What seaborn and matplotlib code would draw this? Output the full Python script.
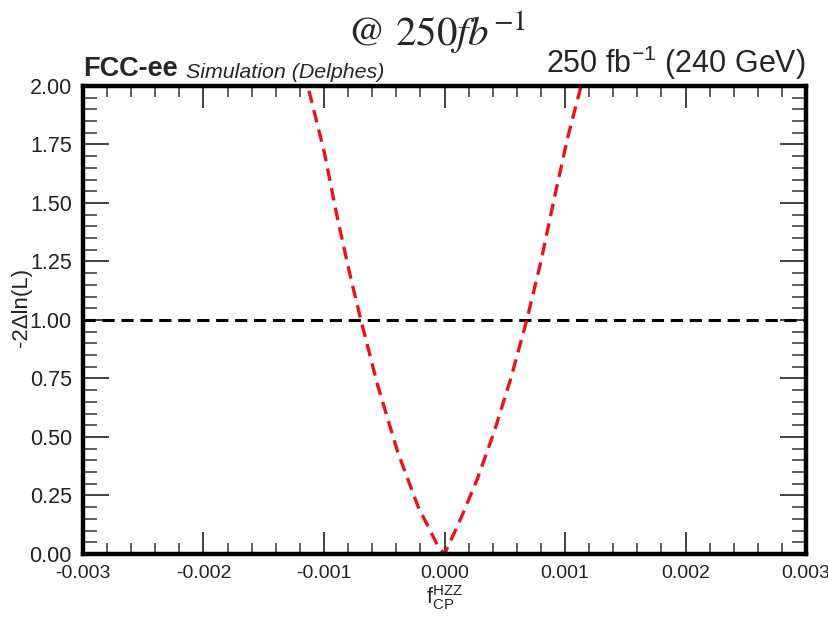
import matplotlib
matplotlib.use("Agg")
import matplotlib.pyplot as plt
import matplotlib.ticker as mticker
import seaborn as sns
import pandas as pd

# Data
f_cp = [-0.001125, -0.00100, -0.000889, -0.000778, -0.000694, -0.000555,
        -0.000388, -0.000222, -0.000055, 0.0,
        0.000133, 0.000272, 0.000411, 0.000550, 0.000683, 0.000800,
        0.000911, 0.001022, 0.001133]
nll = [1.98, 1.722, 1.436, 1.179, 1.0, 0.721,
       0.435, 0.206, 0.034, 0.0,
       0.149, 0.32, 0.52, 0.75, 1.0, 1.25,
       1.52, 1.78, 2.0]
ref_level = [1.0, 1.0]
ref_x = [-0.003, 0.003]
x_ticks = [-0.003, -0.002, -0.001, 0.0, 0.001, 0.002, 0.003]
y_ticks = [0.0, 0.25, 0.5, 0.75, 1.0, 1.25, 1.5, 1.75, 2.0]

sns.set_style("ticks")
plt.rcParams['font.family'] = ['Liberation Sans', 'DejaVu Sans']
plt.rcParams['mathtext.fontset'] = 'custom'
plt.rcParams['mathtext.rm'] = 'Liberation Sans'
plt.rcParams['mathtext.it'] = 'Liberation Sans:italic'

df = pd.DataFrame({"x": f_cp, "y": nll})
ref = pd.DataFrame({"x": ref_x, "y": ref_level})

fig = plt.figure(figsize=(8.29, 6.18), dpi=100)
ax = fig.add_axes([0.1001, 0.1036, 0.8722, 0.7573])

sns.lineplot(data=ref, x="x", y="y", ax=ax, color="black", lw=2.2,
             dashes=False, linestyle=(0, (4, 2.2)))
sns.lineplot(data=df, x="x", y="y", ax=ax, color="#e8141a", lw=2.4,
             linestyle=(0, (3.8, 2.2)), sort=True, estimator=None)

ax.set_xlim(-0.003, 0.003)
ax.set_ylim(0, 2.0)
ax.set_xticks(x_ticks)
ax.set_yticks(y_ticks)
ax.xaxis.set_major_formatter(mticker.FuncFormatter(lambda v, p: "%.3f" % v if abs(v) > 1e-12 else "0.000"))
ax.yaxis.set_major_formatter(mticker.FuncFormatter(lambda v, p: "%.2f" % v))
ax.xaxis.set_minor_locator(mticker.MultipleLocator(0.0002))
ax.yaxis.set_minor_locator(mticker.MultipleLocator(0.05))

ax.tick_params(axis='both', which='both', direction='in', top=True, right=True,
               color='#333333', labelcolor='#222222')
ax.tick_params(axis='x', which='major', labelsize=14, length=16, width=1.3, pad=8)
ax.tick_params(axis='x', which='minor', length=8, width=1.1)
ax.tick_params(axis='y', which='major', labelsize=15.5, length=19, width=1.3, pad=8)
ax.tick_params(axis='y', which='minor', length=10, width=1.1)
for s in ax.spines.values():
    s.set_linewidth(3.2)
    s.set_color('black')
    s.set_visible(True)

ax.set_xlabel(r"$\mathrm{f}_{\mathrm{CP}}^{\mathrm{HZZ}}$", fontsize=15.5, labelpad=1)
ax.set_ylabel("-2\u0394ln(L)", fontsize=16, color='#222222')
ax.yaxis.set_label_coords(-0.07, 0.527)

fig.text(0.527, 0.948, r"@ 250$fb^{-1}$", ha='center', va='center',
         fontsize=29.5, family='STIXGeneral', math_fontfamily='stix')
ax.text(0.0, 1.008, "FCC-ee", transform=ax.transAxes, fontsize=19.5,
        fontweight='bold', ha='left', va='bottom')
ax.text(0.143, 1.008, "Simulation (Delphes)", transform=ax.transAxes,
        fontsize=15.4, fontstyle='italic', ha='left', va='bottom')
ax.text(1.0, 1.008, r"250 fb$^{-1}$ (240 GeV)", transform=ax.transAxes,
        fontsize=22, ha='right', va='bottom')

fig.savefig("out.png", dpi=100, facecolor='white')
